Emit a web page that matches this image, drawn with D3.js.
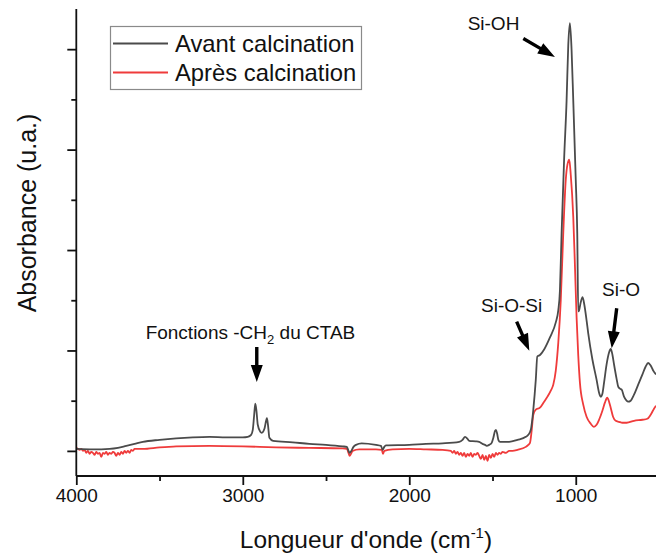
<!DOCTYPE html>
<html><head><meta charset="utf-8">
<script src="https://cdn.jsdelivr.net/npm/d3@7"></script>
<style>body{margin:0;background:#fff}svg{display:block}text{font-family:"Liberation Sans",Arial,sans-serif;fill:#111}</style>
</head><body><svg id="c" width="656" height="553"></svg>
<script>
const seriesNames = ["Avant calcination", "Après calcination"];
const seriesColors = ["#4b4b4b", "#ef3b3b"];
const xTickValues = [4000, 3000, 2000, 1000];
const xMinorTicks = [3500, 2500, 1500];
const yTickValues = [0, 1, 2, 3, 4];
const yMinorTicks = [0.5, 1.5, 2.5, 3.5];

const wnAvant = [4000,3900,3800,3750,3700,3650,3600,3500,3400,3300,3200,3100,3000,2970,2950,2940,2932,2925,2918,2910,2895,2886,2870,2860,2855,2848,2840,2818,2700,2600,2500,2400,2375,2365,2358,2348,2335,2320,2286,2200,2170,2160,2150,2140,2000,1900,1800,1700,1680,1665,1650,1640,1600,1580,1560,1545,1535,1520,1505,1495,1485,1479,1472,1465,1455,1400,1350,1300,1285,1270,1262,1255,1240,1231,1215,1190,1155,1120,1105,1095,1085,1070,1055,1045,1035,1025,1015,1000,991,985,980,970,959,948,935,925,900,875,860,850,840,830,815,800,790,780,770,755,745,735,724,710,695,685,670,650,625,600,580,565,550,535,518];
const absAvant = [0.02,0.015,0.02,0.03,0.05,0.07,0.09,0.11,0.125,0.135,0.14,0.135,0.135,0.14,0.16,0.21,0.35,0.47,0.40,0.26,0.19,0.18,0.22,0.30,0.325,0.25,0.13,0.10,0.085,0.07,0.06,0.045,0.04,0.0,-0.02,0.0,0.04,0.06,0.075,0.06,0.05,0.01,0.04,0.055,0.06,0.07,0.075,0.09,0.11,0.14,0.12,0.10,0.095,0.09,0.07,0.06,0.05,0.06,0.08,0.13,0.20,0.21,0.17,0.11,0.09,0.09,0.11,0.14,0.16,0.21,0.30,0.41,0.71,0.94,0.955,1.01,1.13,1.28,1.40,1.60,2.17,2.90,3.49,4.04,4.26,3.99,3.49,2.70,2.17,1.39,1.40,1.48,1.53,1.45,1.30,1.17,0.91,0.71,0.58,0.54,0.57,0.68,0.86,0.98,1.015,0.96,0.86,0.72,0.64,0.62,0.61,0.54,0.50,0.49,0.50,0.56,0.66,0.76,0.84,0.875,0.85,0.80,0.76];

const wnApres = [4000,3990,3980,3970,3960,3950,3940,3930,3920,3910,3900,3890,3880,3870,3860,3850,3840,3830,3820,3810,3800,3790,3780,3770,3760,3750,3740,3730,3720,3710,3700,3690,3680,3670,3660,3650,3600,3500,3400,3200,3000,2800,2600,2400,2375,2365,2358,2350,2340,2300,2200,2165,2158,2150,2100,2000,1900,1800,1750,1740,1730,1720,1710,1700,1690,1680,1670,1660,1650,1640,1630,1620,1610,1600,1590,1580,1570,1560,1550,1540,1530,1520,1510,1500,1490,1480,1470,1460,1450,1440,1420,1400,1380,1350,1300,1285,1275,1265,1255,1240,1215,1190,1170,1150,1135,1120,1105,1090,1075,1060,1050,1039,1030,1015,1005,995,985,975,955,935,910,891,875,860,840,825,811,800,790,776,760,740,720,694,650,600,570,550,530,518];
const absApres = [0.03,0.02,0.01,0.02,0.0,0.01,-0.02,0.0,-0.03,-0.01,-0.02,-0.04,-0.01,-0.03,-0.02,-0.06,-0.02,-0.03,-0.01,-0.04,-0.02,-0.03,-0.01,-0.02,-0.05,-0.02,-0.04,-0.01,-0.03,0.0,-0.02,0.0,-0.02,0.01,0.0,0.02,0.02,0.035,0.045,0.05,0.045,0.035,0.03,0.025,0.02,-0.02,-0.05,-0.03,0.0,0.015,0.015,0.01,-0.03,0.0,0.015,0.02,0.015,0.01,0.0,-0.02,0.0,-0.03,-0.01,-0.04,-0.02,-0.05,-0.02,-0.06,-0.03,-0.05,-0.02,-0.06,-0.03,-0.04,-0.02,-0.05,-0.08,-0.04,-0.09,-0.05,-0.10,-0.04,-0.07,-0.03,-0.06,-0.02,-0.04,-0.02,-0.03,-0.01,-0.02,0.0,0.0,0.01,0.04,0.06,0.08,0.2,0.36,0.41,0.43,0.49,0.54,0.60,0.66,0.80,1.075,1.50,2.17,2.70,2.85,2.90,2.75,2.33,1.85,1.33,0.95,0.68,0.46,0.34,0.27,0.24,0.26,0.31,0.40,0.48,0.53,0.49,0.43,0.34,0.30,0.29,0.28,0.28,0.30,0.31,0.32,0.36,0.42,0.45];

const annotations = [
  {label:"Si-OH", tx:1494, ty:4.19, from:[1315,4.106], to:[1125,3.923]},
  {label:"Si-O-Si", tx:1385, ty:1.386, from:[1355,1.287], to:[1279,0.998]},
  {label:"Si-O", tx:728, ty:1.542, from:[754,1.42], to:[784,1.022]},
  {label:"CH2", tx:2954, ty:1.114, from:[2916,1.035], to:[2916,0.687]}
];

const svg = d3.select("#c");
const x = d3.scaleLinear().domain([4000, 518]).range([76.3, 656]);
const y = d3.scaleLinear().domain([-0.25, 4.4]).range([476, 9]);

svg.append("clipPath").attr("id","cp").append("rect").attr("x",77).attr("y",0).attr("width",600).attr("height",476);

const series = [
  {wn: wnAvant, ab: absAvant, color: seriesColors[0]},
  {wn: wnApres, ab: absApres, color: seriesColors[1]}
];
const line = d3.line().x(d => x(d[0])).y(d => y(d[1])).curve(d3.curveMonotoneX);
const g = svg.append("g").attr("clip-path","url(#cp)");
[series[1], series[0]].forEach(s => {
  const pts = s.wn.map((w,i)=>[w, s.ab[i]]);
  g.append("path").datum(pts).attr("d", line).attr("fill","none")
   .attr("stroke", s.color).attr("stroke-width", 1.8).attr("stroke-linejoin","round");
});

// axes
const xAxis = svg.append("g").attr("transform","translate(0,476)");
xAxis.call(d3.axisBottom(x).tickValues(xTickValues).tickSize(9).tickPadding(4).tickFormat(d3.format("d")));
xAxis.append("g").call(d3.axisBottom(x).tickValues(xMinorTicks).tickSize(5).tickFormat(""));
xAxis.selectAll("g g .domain").remove();
xAxis.select(".domain").attr("d","M76.3,0H656").attr("stroke","#111").attr("stroke-width",1.8);
xAxis.selectAll(".tick line").attr("stroke","#111").attr("stroke-width",1.8);
xAxis.selectAll(".tick text").attr("font-size",19).attr("fill","#111").attr("font-family","'Liberation Sans',Arial,sans-serif");

const yAxis = svg.append("g").attr("transform","translate(76.3,0)");
yAxis.call(d3.axisLeft(y).tickValues(yTickValues).tickSize(9).tickFormat(""));
yAxis.append("g").call(d3.axisLeft(y).tickValues(yMinorTicks).tickSize(5).tickFormat(""));
yAxis.selectAll("g g .domain").remove();
yAxis.select(".domain").attr("d","M0,9V476").attr("stroke","#111").attr("stroke-width",1.8);
yAxis.selectAll(".tick line").attr("stroke","#111").attr("stroke-width",1.8);

// axis titles
const xt = svg.append("text").attr("x",366).attr("y",548).attr("text-anchor","middle").attr("font-size",24.5);
xt.append("tspan").text("Longueur d'onde (cm");
xt.append("tspan").attr("font-size",15).attr("dy",-10).text("-1");
xt.append("tspan").attr("dy",10).text(")");
svg.append("text").attr("transform","translate(36,213) rotate(-90)").attr("text-anchor","middle").attr("font-size",25).text("Absorbance (u.a.)");

// legend
const lg = svg.append("g");
lg.append("rect").attr("x",110.5).attr("y",26.5).attr("width",251).attr("height",63).attr("fill","#fff").attr("stroke","#8a8a8a").attr("stroke-width",1.2);
seriesNames.forEach((n,i)=>{
  const yy = 43.5 + i*29;
  lg.append("line").attr("x1",113).attr("x2",168).attr("y1",yy).attr("y2",yy).attr("stroke",seriesColors[i]).attr("stroke-width",2);
  lg.append("text").attr("x",175).attr("y",yy+8.5).attr("font-size",23.8).text(n);
});

// annotations
function arrow(a){
  const x0=x(a.from[0]), y0=y(a.from[1]), x1=x(a.to[0]), y1=y(a.to[1]);
  const dx=x1-x0, dy=y1-y0, L=Math.hypot(dx,dy), ux=dx/L, uy=dy/L, px=-uy, py=ux;
  const hl=17, hw=6, sw=1.7;
  const bx=x1-ux*hl, by=y1-uy*hl;
  const p=[[x0+px*sw,y0+py*sw],[bx+px*sw,by+py*sw],[bx+px*hw,by+py*hw],[x1,y1],[bx-px*hw,by-py*hw],[bx-px*sw,by-py*sw],[x0-px*sw,y0-py*sw]];
  svg.append("path").attr("d","M"+p.map(q=>q.join(",")).join("L")+"Z").attr("fill","#000");
}
annotations.forEach(a=>{
  arrow(a);
  if(a.label==="CH2"){
    const t=svg.append("text").attr("x",x(a.tx)).attr("y",y(a.ty)).attr("text-anchor","middle").attr("font-size",19);
    t.append("tspan").text("Fonctions -CH");
    t.append("tspan").attr("font-size",13).attr("dy",5).text("2");
    t.append("tspan").attr("dy",-5).text(" du CTAB");
  } else {
    svg.append("text").attr("x",x(a.tx)).attr("y",y(a.ty)).attr("text-anchor","middle").attr("font-size",19).text(a.label);
  }
});
</script></body></html>
